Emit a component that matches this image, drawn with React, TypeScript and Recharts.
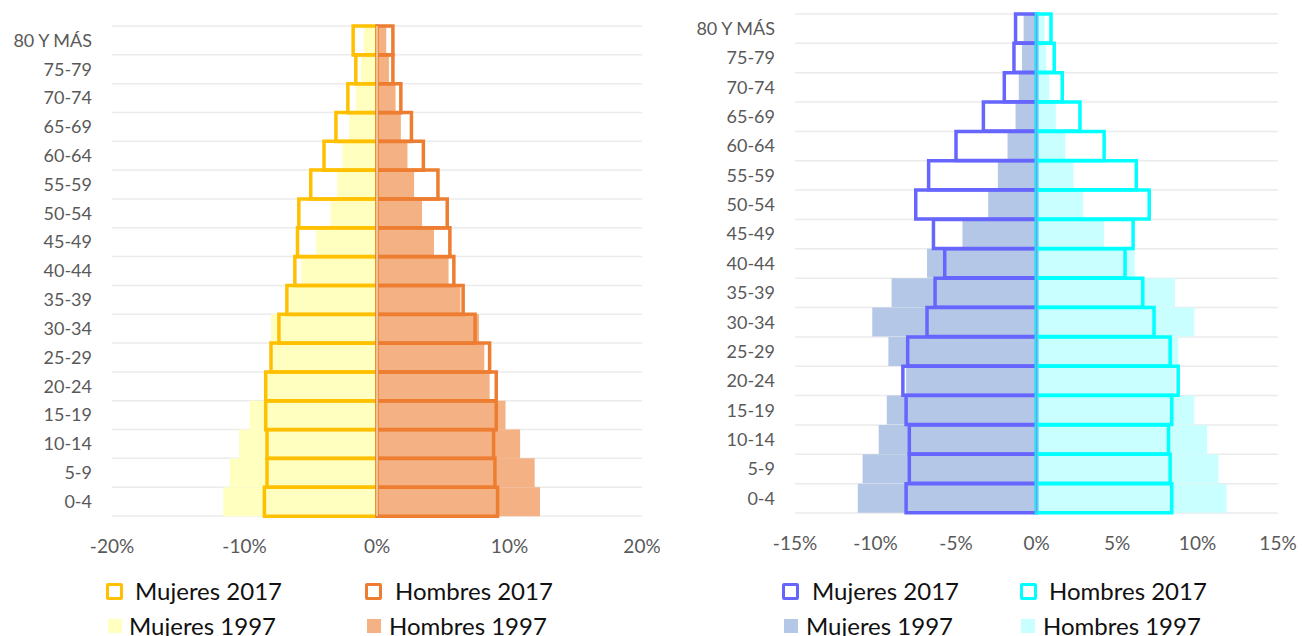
import { BarChart, Bar, XAxis, YAxis, CartesianGrid, ReferenceLine } from 'recharts'

const ageGroups = [
  '80 Y MÁS', '75-79', '70-74', '65-69', '60-64', '55-59', '50-54', '45-49', '40-44',
  '35-39', '30-34', '25-29', '20-24', '15-19', '10-14', '5-9', '0-4',
]

// left pyramid (%)
const mujeres2017A = [1.8, 1.6, 2.2, 3.1, 4.0, 5.0, 5.9, 6.0, 6.2, 6.8, 7.4, 8.0, 8.4, 8.4, 8.3, 8.3, 8.5]
const hombres2017A = [1.2, 1.2, 1.8, 2.6, 3.5, 4.6, 5.3, 5.5, 5.8, 6.5, 7.4, 8.5, 9.0, 9.0, 8.8, 8.9, 9.1]
const mujeres1997A = [1.0, 1.2, 1.6, 2.1, 2.6, 3.0, 3.5, 4.6, 5.7, 6.6, 8.0, 7.9, 8.3, 9.6, 10.4, 11.1, 11.6]
const hombres1997A = [0.7, 0.9, 1.4, 1.8, 2.3, 2.8, 3.4, 4.3, 5.4, 6.3, 7.7, 8.1, 8.5, 9.7, 10.8, 11.9, 12.3]

// right pyramid (%)
const mujeres2017B = [1.3, 1.4, 2.0, 3.3, 5.0, 6.7, 7.5, 6.4, 5.7, 6.3, 6.8, 8.0, 8.3, 8.1, 7.9, 7.9, 8.1]
const hombres2017B = [0.9, 1.1, 1.6, 2.7, 4.2, 6.2, 7.0, 6.0, 5.5, 6.6, 7.3, 8.3, 8.8, 8.4, 8.2, 8.3, 8.4]
const mujeres1997B = [0.8, 0.9, 1.1, 1.3, 1.8, 2.4, 3.0, 4.6, 6.8, 9.0, 10.2, 9.2, 8.1, 9.3, 9.8, 10.8, 11.1]
const hombres1997B = [0.5, 0.6, 0.8, 1.2, 1.8, 2.3, 2.9, 4.2, 6.1, 8.6, 9.8, 8.8, 8.6, 9.8, 10.6, 11.3, 11.8]

const ticksA = [-20, -10, 0, 10, 20]
const ticksB = [-15, -10, -5, 0, 5, 10, 15]

const FONT = 'Lato, "Open Sans", sans-serif'

function buildRows(m17: number[], h17: number[], m97: number[], h97: number[]) {
  return ageGroups.map((age, i) => ({
    age,
    m2017: -m17[i],
    h2017: h17[i],
    m1997: -m97[i],
    h1997: h97[i],
  }))
}

type Colors = { m17: string; h17: string; m97: string; h97: string; axis: string }

type PyramidProps = {
  rows: ReturnType<typeof buildRows>
  ticks: number[]
  colors: Colors
  width: number
  yWidth: number
  margin: { top: number; right: number; bottom: number; left: number }
}

// plain tick so that "80 Y MÁS" is never wrapped
function AgeTick({ x, y, payload }: any) {
  return (
    <text x={x} y={y} dy="0.35em" textAnchor="end" fontSize={18} fill="#595959" fontFamily={FONT}>
      {payload.value}
    </text>
  )
}

function Pyramid({ rows, ticks, colors, width, yWidth, margin }: PyramidProps) {
  const n = rows.length
  return (
    <BarChart
      width={width}
      height={636}
      data={rows}
      layout="vertical"
      stackOffset="sign"
      barCategoryGap={0}
      barGap={0}
      margin={margin}
    >
      <CartesianGrid
        yAxisId="front"
        vertical={false}
        stroke="#ebebeb"
        strokeWidth={1.5}
        horizontalCoordinatesGenerator={({ offset }: any) =>
          Array.from({ length: n + 1 }, (_, i) => offset.top + (i * offset.height) / n)
        }
      />
      <XAxis
        type="number"
        domain={[ticks[0], ticks[ticks.length - 1]]}
        ticks={ticks}
        tickFormatter={(v: number) => `${v}%`}
        axisLine={false}
        tickLine={false}
        tickSize={0}
        tickMargin={24}
        height={50}
        tick={{ fontSize: 19, fill: '#595959', fontFamily: FONT }}
      />
      <YAxis
        yAxisId="front"
        type="category"
        dataKey="age"
        width={yWidth}
        axisLine={false}
        tickLine={false}
        tickSize={0}
        tickMargin={20}
        interval={0}
        tick={<AgeTick />}
      />
      <YAxis yAxisId="back" type="category" dataKey="age" hide width={0} />
      <Bar yAxisId="back" dataKey="m1997" stackId="b" fill={colors.m97} isAnimationActive={false} />
      <Bar yAxisId="back" dataKey="h1997" stackId="b" fill={colors.h97} isAnimationActive={false} />
      <ReferenceLine yAxisId="front" x={0} stroke={colors.axis} strokeWidth={1.5} />
      <Bar yAxisId="front" dataKey="m2017" stackId="f" fill="none" stroke={colors.m17} strokeWidth={3.5} isAnimationActive={false} />
      <Bar yAxisId="front" dataKey="h2017" stackId="f" fill="none" stroke={colors.h17} strokeWidth={3.5} isAnimationActive={false} />
    </BarChart>
  )
}

function LegendBlock({ colors, cols, textGap }: { colors: Colors; cols: number[][]; textGap: number[][] }) {
  const items = [
    { name: 'Mujeres 2017', color: colors.m17, outline: true },
    { name: 'Hombres 2017', color: colors.h17, outline: true },
    { name: 'Mujeres 1997', color: colors.m97, outline: false },
    { name: 'Hombres 1997', color: colors.h97, outline: false },
  ]
  const rowY = [591, 626]
  return (
    <>
      {items.map((it, i) => {
        const row = Math.floor(i / 2)
        const col = i % 2
        const x = cols[row][col]
        const cy = rowY[row]
        const size = it.outline ? 17 : 14
        return (
          <div key={it.name}>
            <div
              style={{
                position: 'absolute',
                left: x,
                top: cy - size / 2,
                width: size,
                height: size,
                boxSizing: 'border-box',
                background: it.outline ? '#fff' : it.color,
                border: it.outline ? `3.5px solid ${it.color}` : 'none',
                borderRadius: it.outline ? 2 : 0,
              }}
            />
            <div
              style={{
                position: 'absolute',
                left: textGap[row][col],
                top: cy - 15,
                lineHeight: '30px',
                fontSize: 24,
                color: '#111',
                fontFamily: FONT,
                whiteSpace: 'nowrap',
              }}
            >
              {it.name}
            </div>
          </div>
        )
      })}
    </>
  )
}

const leftColors: Colors = { m17: '#ffc000', h17: '#ed7d31', m97: '#ffffc0', h97: '#f4b183', axis: '#e3dcb8' }
const rightColors: Colors = { m17: '#6666ff', h17: '#00ffff', m97: '#b4c7e7', h97: '#c9ffff', axis: '#7f9be6' }

export default function App() {
  const rowsA = buildRows(mujeres2017A, hombres2017A, mujeres1997A, hombres1997A)
  const rowsB = buildRows(mujeres2017B, hombres2017B, mujeres1997B, hombres1997B)
  return (
    <div style={{ position: 'absolute', left: 0, top: 0, width: 1302, height: 636, background: '#fff', overflow: 'hidden' }}>
      <div style={{ position: 'absolute', left: 0, top: 0 }}>
        <Pyramid
          rows={rowsA}
          ticks={ticksA}
          colors={leftColors}
          width={660}
          yWidth={112}
          margin={{ top: 26, right: 18, bottom: 70, left: 0 }}
        />
      </div>
      <div style={{ position: 'absolute', left: 660, top: 0 }}>
        <Pyramid
          rows={rowsB}
          ticks={ticksB}
          colors={rightColors}
          width={642}
          yWidth={135}
          margin={{ top: 14, right: 24, bottom: 73, left: 0 }}
        />
      </div>
      <LegendBlock colors={leftColors} cols={[[106, 365], [108, 367]]} textGap={[[135, 395], [129, 389]]} />
      <LegendBlock colors={rightColors} cols={[[782, 1020], [784, 1021]]} textGap={[[812, 1049], [806, 1043]]} />
    </div>
  )
}
